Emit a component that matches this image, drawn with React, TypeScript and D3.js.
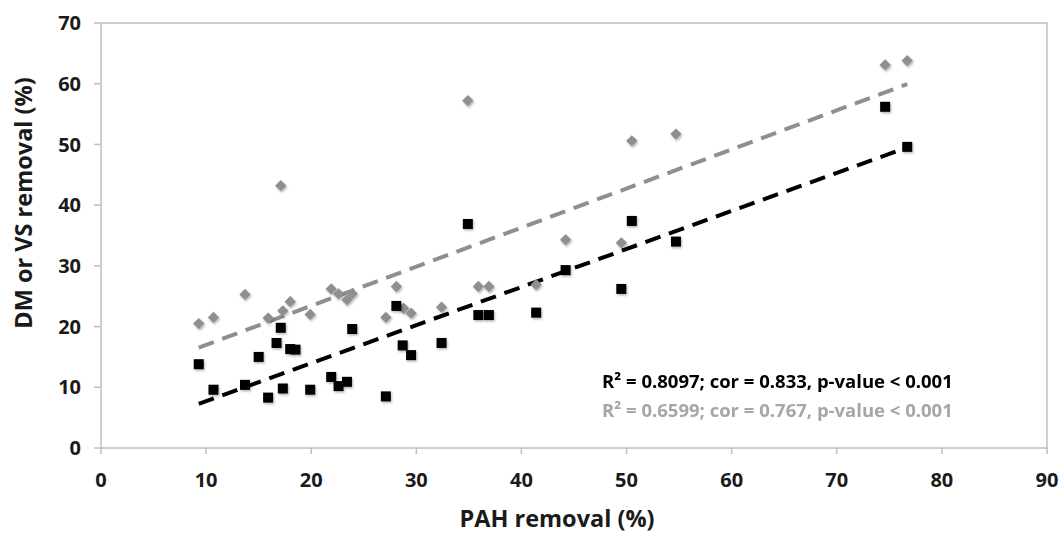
import React from "react";
import * as d3 from "d3";

// PAH removal (%) for each sample
const dmX = [9.3, 10.7, 13.7, 15.0, 15.9, 16.7, 17.1, 17.3, 18.0, 18.5, 19.9, 21.9, 22.6, 23.4, 23.9, 27.1, 28.1, 28.7, 29.5, 32.4, 34.9, 35.9, 36.9, 41.4, 44.2, 49.5, 50.5, 54.7, 74.6, 76.7];
// DM removal (%) - black squares
const dmY = [13.8, 9.6, 10.4, 15.0, 8.3, 17.3, 19.8, 9.8, 16.3, 16.2, 9.6, 11.7, 10.2, 10.9, 19.6, 8.5, 23.4, 16.9, 15.3, 17.3, 36.9, 21.9, 21.9, 22.3, 29.3, 26.2, 37.4, 34.0, 56.2, 49.6];

const vsX = [9.3, 10.7, 13.7, 15.9, 17.1, 17.3, 18.0, 19.9, 21.9, 22.6, 23.4, 23.9, 27.1, 28.1, 28.8, 29.5, 32.4, 34.9, 35.9, 36.9, 41.4, 44.2, 49.5, 50.5, 54.7, 74.6, 76.7];
// VS removal (%) - grey diamonds
const vsY = [20.5, 21.5, 25.3, 21.4, 43.2, 22.6, 24.1, 22.0, 26.2, 25.4, 24.4, 25.4, 21.5, 26.6, 23.0, 22.2, 23.2, 57.2, 26.6, 26.6, 26.9, 34.3, 33.8, 50.6, 51.7, 63.1, 63.8];

// linear trend lines: [slope, intercept]
const dmTrend = [0.6265, 1.45];
const vsTrend = [0.644, 10.54];

const xTicks = [0, 10, 20, 30, 40, 50, 60, 70, 80, 90];
const yTicks = [0, 10, 20, 30, 40, 50, 60, 70];

const dmLabel = "R\u00b2 = 0.8097; cor = 0.833, p-value < 0.001";
const vsLabel = "R\u00b2 = 0.6599; cor = 0.767, p-value < 0.001";

const width = 1060;
const height = 536;
const margin = { top: 23, right: 13, bottom: 88, left: 101 };

const FONT = "'Open Sans', 'DejaVu Sans', sans-serif";
const GREY = "#8f8f8f";
const FRAME = "#c0c0c0";
const INK = "#1a1a1a";

const App: React.FC = () => {
  const x = d3
    .scaleLinear()
    .domain([0, 90])
    .range([margin.left, width - margin.right]);
  const y = d3
    .scaleLinear()
    .domain([0, 70])
    .range([height - margin.bottom, margin.top]);

  const square = d3.symbol(d3.symbolSquare, 100)();
  const diamond = d3.symbol(d3.symbolSquare, 64)();

  const trend = (xs: number[], [slope, intercept]: number[]) => {
    const ext = d3.extent(xs) as [number, number];
    return d3.line<number>()
      .x((d) => x(d))
      .y((d) => y(slope * d + intercept))(ext);
  };

  const x0 = x(0);
  const x1 = x(90);
  const y0 = y(0);
  const y1 = y(70);

  return (
    <svg
      width={width}
      height={height}
      style={{ position: "absolute", left: 0, top: 0, background: "white" }}
      fontFamily={FONT}
    >
      <defs>
        <filter id="shadow" x="-50%" y="-50%" width="200%" height="200%">
          <feDropShadow dx="1" dy="1.5" stdDeviation="1.2" floodColor="#000" floodOpacity="0.3" />
        </filter>
      </defs>

      {/* plot frame */}
      <rect x={x0} y={y1} width={x1 - x0} height={y0 - y1} fill="none" stroke={FRAME} strokeWidth={1.5} />

      {/* y axis ticks + labels */}
      {yTicks.map((t) => (
        <g key={`y-${t}`}>
          <line x1={x0 - 7} x2={x0} y1={y(t)} y2={y(t)} stroke={FRAME} strokeWidth={1.5} />
          <text
            x={81}
            y={y(t)}
            dy="0.36em"
            textAnchor="end"
            fontSize={20}
            fontWeight="bold"
            fill={INK}
          >
            {t}
          </text>
        </g>
      ))}

      {/* x axis ticks + labels */}
      {xTicks.map((t) => (
        <g key={`x-${t}`}>
          <line x1={x(t)} x2={x(t)} y1={y0} y2={y0 + 6} stroke={FRAME} strokeWidth={1.5} />
          <text
            x={x(t)}
            y={487}
            textAnchor="middle"
            fontSize={20}
            fontWeight="bold"
            fill={INK}
          >
            {t}
          </text>
        </g>
      ))}

      {/* axis titles */}
      <text
        x={557}
        y={527}
        textAnchor="middle"
        fontSize={23.5}
        fontWeight="bold"
        fill={INK}
      >
        PAH removal (%)
      </text>
      <text
        transform="translate(32, 203) rotate(-90)"
        textAnchor="middle"
        fontSize={23.5}
        fontWeight="bold"
        fill={INK}
      >
        DM or VS removal (%)
      </text>

      {/* trend lines */}
      <path d={trend(vsX, vsTrend) ?? ""} fill="none" stroke={GREY} strokeWidth={4} strokeDasharray="16 9" />
      <path d={trend(dmX, dmTrend) ?? ""} fill="none" stroke="#000" strokeWidth={4} strokeDasharray="16 9" />

      {/* VS points */}
      <g filter="url(#shadow)">
        {vsX.map((v, i) => (
          <path
            key={`vs-${i}`}
            d={diamond ?? ""}
            transform={`translate(${x(v)}, ${y(vsY[i])}) rotate(45)`}
            fill={GREY}
          />
        ))}
      </g>

      {/* DM points */}
      <g filter="url(#shadow)">
        {dmX.map((v, i) => (
          <path
            key={`dm-${i}`}
            d={square ?? ""}
            transform={`translate(${x(v)}, ${y(dmY[i])})`}
            fill="#000"
          />
        ))}
      </g>

      {/* stats */}
      <text x={602} y={388} fontSize={18.5} fontWeight="bold" fill="#000">
        {dmLabel}
      </text>
      <text x={602} y={417} fontSize={18.5} fontWeight="bold" fill="#a6a6a6">
        {vsLabel}
      </text>
    </svg>
  );
};

export default App;
